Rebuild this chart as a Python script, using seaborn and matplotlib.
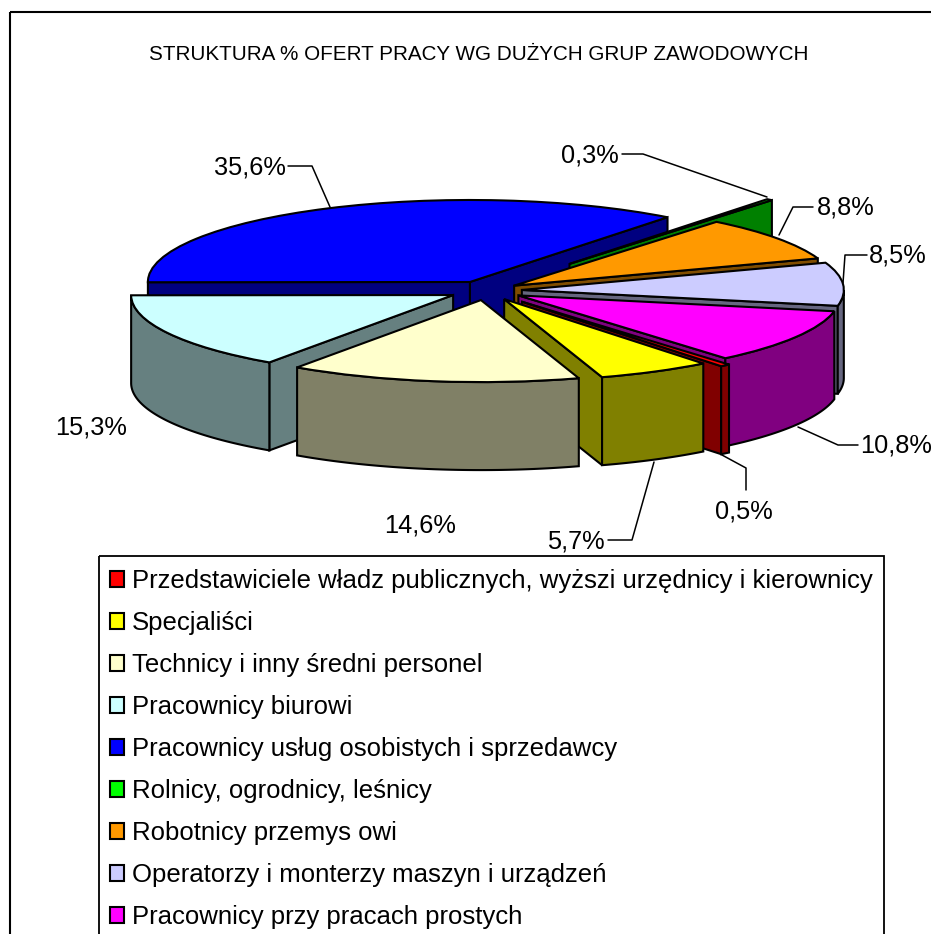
import numpy as np
import matplotlib
matplotlib.use("Agg")
import matplotlib.pyplot as plt
from matplotlib.patches import Polygon, Rectangle, Patch
import seaborn as sns

categories = [
    "Przedstawiciele władz publicznych, wyższi urzędnicy i kierownicy",
    "Specjaliści",
    "Technicy i inny średni personel",
    "Pracownicy biurowi",
    "Pracownicy usług osobistych i sprzedawcy",
    "Rolnicy, ogrodnicy, leśnicy",
    "Robotnicy przemys owi",
    "Operatorzy i monterzy maszyn i urządzeń",
    "Pracownicy przy pracach prostych",
]
values = [0.5, 5.7, 14.6, 15.3, 35.6, 0.3, 8.8, 8.5, 10.8]
explode = [0.175, 0.117, 0.117, 0.117, 0.117, 0.415, 0.105, 0.11, 0.115]
top_colors = ["#ff0000", "#ffff00", "#ffffcc", "#ccffff", "#0000ff",
              "#00ff00", "#ff9900", "#ccccff", "#ff00ff"]
wall_colors = ["#800000", "#808000", "#808066", "#668080", "#000080",
               "#008000", "#804d00", "#666680", "#800080"]
draw_rank = [5, 6, 8, 7, 0, 1, 2, 3, 4]
title = "STRUKTURA % OFERT PRACY WG DUŻYCH GRUP ZAWODOWYCH"
value_labels = ["0,5%", "5,7%", "14,6%", "15,3%", "35,6%", "0,3%", "8,8%", "8,5%", "10,8%"]
label_pos = [(744, 512), (576, 541), (420, 525), (91.5, 428), (249.5, 167),
             (590, 156), (846, 208), (898, 256), (896, 446)]
leaders = [
    [(722, 455), (746, 468), (746, 490)],
    [(608, 540), (632, 540), (654, 462)],
    None,
    None,
    [(288, 166), (312, 166), (330, 207)],
    [(622, 154), (643, 154), (767, 197)],
    [(813, 207), (793, 207), (779, 235)],
    [(867, 255), (845, 255), (843, 283)],
    [(858, 445), (838, 445), (798, 427)],
]

W, H = 931, 934
CX, CY, RX, RY, DEPTH = 486.5, 290.6, 322.0, 82.0, 88.0

sns.set_theme(style="white")
plt.rcParams["font.family"] = ["Liberation Sans", "DejaVu Sans"]
plt.rcParams["text.color"] = "black"

fig = plt.figure(figsize=(W / 100, H / 100), dpi=100, facecolor="white")
ax = fig.add_axes([0, 0, 1, 1])
palette = sns.color_palette(top_colors)
LW = 1.5
wedges, _ = ax.pie(values, explode=explode, colors=palette, startangle=310,
                   counterclock=False, normalize=True,
                   wedgeprops=dict(edgecolor="black", linewidth=LW))
ax.set_aspect("auto")
ax.set_xlim((0 - CX) / RX, (W - CX) / RX)
ax.set_ylim((CY - H) / RY, CY / RY)
ax.axis("off")
d = DEPTH / RY


def pt(c, th, r=1.0):
    return np.array([c[0] + r * np.cos(np.radians(th)), c[1] + r * np.sin(np.radians(th))])


for w, wc, rank in zip(wedges, wall_colors, draw_rank):
    z = 10 + 3 * rank
    w.set_zorder(z + 2)
    c, r, t1, t2 = w.center, w.r, w.theta1, w.theta2
    down = np.array([0, -d])
    # radial faces turned toward the viewer
    for th, vis in ((t1, np.cos(np.radians(t1)) > 0), (t2, np.cos(np.radians(t2)) < 0)):
        if vis:
            a, b = np.array(c), pt(c, th, r)
            ax.add_patch(Polygon([a, b, b + down, a + down], closed=True, facecolor=wc,
                                 edgecolor="black", linewidth=LW, zorder=z))
    # outer wall: the lower part of the arc
    ths = np.linspace(t1, t2, 200)
    ths = ths[np.sin(np.radians(ths)) < 0]
    if len(ths) > 1:
        top = np.array([pt(c, th, r) for th in ths])
        ax.add_patch(Polygon(np.vstack([top, top[::-1] + down]), closed=True, facecolor=wc,
                             edgecolor="black", linewidth=LW, zorder=z + 1))

ov = fig.add_axes([0, 0, 1, 1], facecolor="none")
ov.set_xlim(0, W)
ov.set_ylim(H, 0)
ov.axis("off")
ov.add_patch(Rectangle((9.5, 11.5), 2000, 2000, fill=False, edgecolor="black", linewidth=1.5))
ov.add_patch(Rectangle((99, 556), 785, 2000, fill=False, edgecolor="black", linewidth=1.3))
ov.text(478.5, 54, title, ha="center", va="center", fontsize=14.9, color="black")
for txt, (x, y), ld in zip(value_labels, label_pos, leaders):
    ov.text(x, y, txt, ha="center", va="center", fontsize=18.3, color="black")
    if ld is not None:
        ov.plot(*zip(*ld), color="black", lw=1.1)

handles = [Patch(facecolor=c, edgecolor="black", linewidth=1.5) for c in top_colors]
leg = ov.legend(handles, categories, loc="upper left", bbox_to_anchor=(109.5, 569),
                bbox_transform=ov.transData, borderaxespad=0, borderpad=0, fontsize=18.55,
                frameon=False, labelcolor="black",
                handlelength=0.56, handleheight=0.56, handletextpad=0.31,
                labelspacing=0.70)

fig.savefig("out.png", dpi=100)
